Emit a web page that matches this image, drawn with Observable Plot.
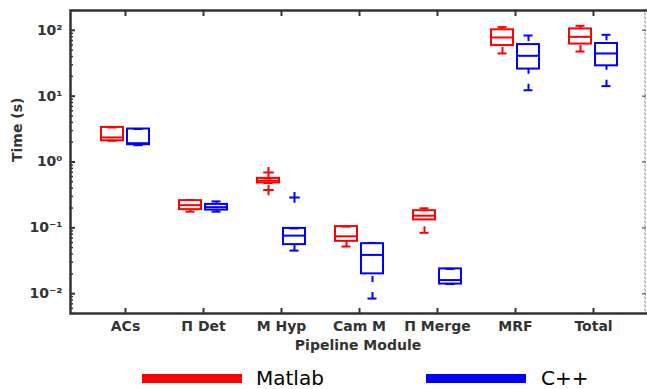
<!DOCTYPE html>
<html><head><meta charset="utf-8">
<script src="https://cdn.jsdelivr.net/npm/d3@7"></script>
<script src="https://cdn.jsdelivr.net/npm/@observablehq/plot@0.6"></script>
<style>
body{margin:0;background:#fff;overflow:hidden;}
#legend{position:relative;width:647px;height:30px;font-family:"DejaVu Sans";font-size:20px;color:#000;}
.sw{position:absolute;height:9px;top:12px;width:100px;}
.lab{position:absolute;top:6px;line-height:20px;}
</style></head><body>
<div id="chart"></div>
<div id="legend"></div>
<script>
const modules = ["ACs", "Π Det", "M Hyp", "Cam M", "Π Merge", "MRF", "Total"];
const implementations = ["Matlab", "C++"];
const implColors = ["#ff0000", "#0000ff"];

const matlabLow    = [2.10, 0.176, 0.48, 0.052, 0.084, 44.5, 47.6];
const matlabQ1     = [2.10, 0.189, 0.48, 0.0624, 0.132, 58.7, 61.8];
const matlabMedian = [2.36, 0.221, 0.52, 0.0743, 0.153, 77.9, 79.6];
const matlabQ3     = [3.35, 0.259, 0.564, 0.1045, 0.182, 101.8, 105];
const matlabHigh   = [3.35, 0.265, 0.564, 0.1045, 0.198, 111.9, 117];
const matlabOutliers = [[], [], [0.695, 0.376], [], [], [], []];

const cppLow    = [1.80, 0.176, 0.0451, 0.00843, 0.014, 12.3, 14.2];
const cppQ1     = [1.83, 0.186, 0.0556, 0.020, 0.014, 25.8, 28.9];
const cppMedian = [1.93, 0.206, 0.0762, 0.0388, 0.0161, 41.0, 44.5];
const cppQ3     = [3.17, 0.227, 0.098, 0.0575, 0.0238, 60.7, 63.1];
const cppHigh   = [3.17, 0.252, 0.098, 0.059, 0.0238, 83.4, 85.5];
const cppOutliers = [[], [], [0.29], [], [], [], []];

const yDecades = [0.01, 0.1, 1, 10, 100];
const yTickLabels = ["10⁻²", "10⁻¹", "10⁰", "10¹", "10²"];
const yTitle = "Time (s)";
const xTitle = "Pipeline Module";

const stats = {
  "Matlab": {low: matlabLow, q1: matlabQ1, med: matlabMedian, q3: matlabQ3, high: matlabHigh, out: matlabOutliers},
  "C++": {low: cppLow, q1: cppQ1, med: cppMedian, q3: cppQ3, high: cppHigh, out: cppOutliers}
};
const minorTicks = [];
for (let e = -3; e <= 2; e++) for (let k = 2; k <= 9; k++) {
  const v = k * Math.pow(10, e);
  if (v >= 0.005 && v <= 200) minorTicks.push(v);
}

const marks = [];
implementations.forEach((impl, j) => {
  const s = stats[impl];
  const rows = modules.map((m, i) => ({module: m, low: s.low[i], q1: s.q1[i], med: s.med[i], q3: s.q3[i], high: s.high[i]}));
  const outs = modules.flatMap((m, i) => s.out[i].map(v => ({module: m, value: v})));
  const dx = j === 0 ? -13 : 13;
  const color = implColors[j];
  marks.push(
    Plot.ruleX(rows, {x: "module", y1: "high", y2: "q3", dx, stroke: color, strokeWidth: 2, strokeDasharray: "6,10"}),
    Plot.ruleX(rows, {x: "module", y1: "low", y2: "q1", dx, stroke: color, strokeWidth: 2, strokeDasharray: "6,10"}),
    Plot.tickY(rows, {x: "module", y: "high", dx, insetLeft: 34.5, insetRight: 34.5, stroke: color, strokeWidth: 2}),
    Plot.tickY(rows, {x: "module", y: "low", dx, insetLeft: 34.5, insetRight: 34.5, stroke: color, strokeWidth: 2}),
    Plot.barY(rows, {x: "module", y1: "q1", y2: "q3", dx, insetLeft: 28, insetRight: 28, fill: "none", stroke: color, strokeWidth: 2}),
    Plot.tickY(rows, {x: "module", y: "med", dx, insetLeft: 28, insetRight: 28, stroke: color, strokeWidth: 2}),
    Plot.dot(outs, {x: "module", y: "value", dx, symbol: "plus", r: 3.5, stroke: color, fill: "none", strokeWidth: 2})
  );
});

const chart = Plot.plot({
  width: 647,
  height: 362,
  marginLeft: 70,
  marginRight: 2,
  marginTop: 10,
  marginBottom: 49,
  style: {fontFamily: "DejaVu Sans", fontWeight: "bold", fontSize: "14px", color: "#333", background: "#fff"},
  x: {type: "band", domain: modules, paddingInner: 0, paddingOuter: 0.14, align: 0.55},
  y: {type: "log", domain: [0.005, 200]},
  marks: [
    Plot.frame({insetLeft: 574, stroke: "#aaa", strokeDasharray: "2,2", strokeWidth: 1}),
    Plot.axisY({anchor: "right", ticks: yDecades, tickSize: 4, dx: -4, tickFormat: () => "", label: null, stroke: "#777", strokeWidth: 1.5}),
    Plot.frame({insetRight: -12, stroke: "#333", strokeWidth: 2.5}),
    Plot.axisY({anchor: "left", ticks: minorTicks, tickSize: 3, dx: 3, tickFormat: () => "", label: null, strokeWidth: 1.5}),
    Plot.axisY({anchor: "left", ticks: yDecades, tickSize: 5, dx: 5, tickFormat: () => "", label: null, strokeWidth: 2}),
    Plot.axisY({anchor: "left", ticks: yDecades, tickSize: 0, tickPadding: 8, tickFormat: d => yTickLabels[yDecades.indexOf(d)], label: null}),
    Plot.text([yTitle], {frameAnchor: "left", rotate: -90, dx: -53, fill: "#333"}),
    Plot.axisX({anchor: "top", tickSize: 5, dy: 5, tickFormat: () => "", label: null, strokeWidth: 2}),
    Plot.axisX({anchor: "bottom", tickSize: 5, dy: -5, tickFormat: () => "", label: null, strokeWidth: 2}),
    Plot.axisX({anchor: "bottom", tickSize: 0, tickPadding: 8, label: xTitle, labelAnchor: "center", labelOffset: 36}),
    ...marks
  ]
});
document.getElementById("chart").appendChild(chart);

const legend = document.getElementById("legend");
const legendX = [[142, 256], [426, 541]];
implementations.forEach((impl, j) => {
  const sw = document.createElement("div");
  sw.className = "sw";
  sw.style.left = legendX[j][0] + "px";
  sw.style.background = implColors[j];
  legend.appendChild(sw);
  const lab = document.createElement("div");
  lab.className = "lab";
  lab.style.left = legendX[j][1] + "px";
  lab.textContent = impl;
  legend.appendChild(lab);
});
</script>
</body></html>
